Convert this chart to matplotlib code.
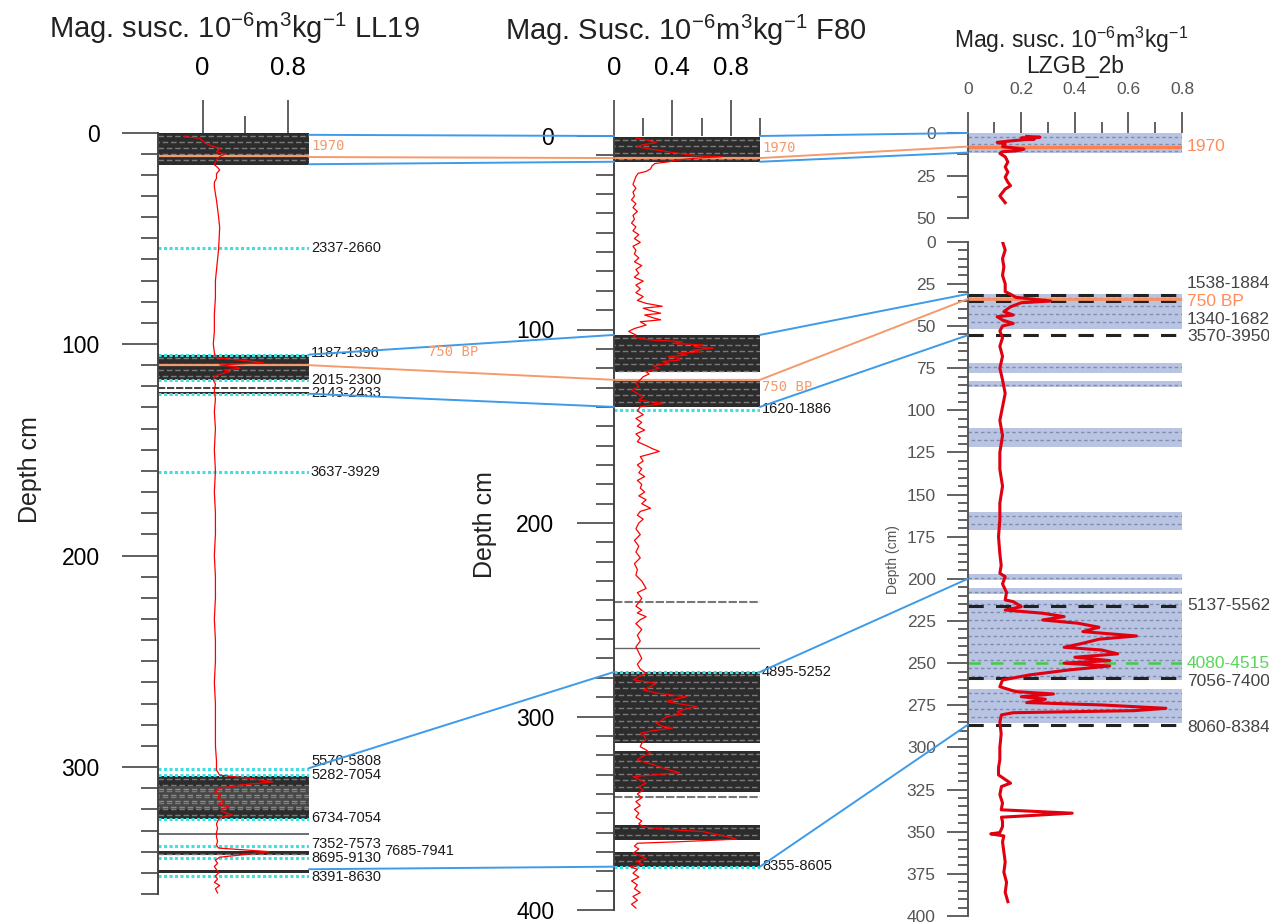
import numpy as np
import matplotlib.pyplot as plt
from matplotlib.patches import ConnectionPatch

W, H = 1269, 923

plt.rcParams['font.family'] = ['Liberation Sans', 'DejaVu Sans']
plt.rcParams['mathtext.default'] = 'regular'

# --- LL19 magnetic susceptibility log --------------------------------------
ll19_depth = [2.0, 2.7, 4.0, 5.1, 6.3, 7.5, 9.1, 10.2, 11.4, 12.7, 14.0, 15.3, 16.5, 17.7,
              19.5, 21.7, 23.5, 25.6, 29, 32, 36, 40, 45, 50, 55, 60, 65, 70, 78, 86, 94,
              100, 104, 106.5, 107.6, 108.8, 109.9, 110.7, 111.5, 112.3, 113.0, 113.9,
              114.7, 115.5, 117, 119, 122, 126, 132, 140, 150, 160, 170, 180, 190, 200,
              210, 220, 230, 240, 250, 260, 270, 280, 290, 297, 301.4, 303.8, 305.3, 307.0,
              308.5, 310.0, 311.7, 313, 314.5, 316, 317.5, 318.8, 320, 321, 322, 322.7,
              323.5, 324.2, 325.5, 327, 329, 331, 333, 335, 337, 338.3, 339.0, 340.0, 341.0,
              341.6, 342.6, 344, 345.5, 347, 348.5, 350, 351.5, 353, 354.5, 356, 357.5, 359.5]
ll19_sus = [-0.17, -0.03, 0.00, 0.03, 0.08, 0.165, 0.13, 0.21, 0.16, 0.13, 0.12, 0.11, 0.14,
            0.16, 0.13, 0.13, 0.11, 0.11, 0.12, 0.13, 0.14, 0.15, 0.16, 0.155, 0.15, 0.14,
            0.13, 0.12, 0.12, 0.11, 0.11, 0.10, 0.11, 0.12, 0.35, 0.57, 0.16, 0.30, 0.35,
            0.20, 0.26, 0.19, 0.14, 0.11, 0.10, 0.12, 0.11, 0.12, 0.11, 0.12, 0.11, 0.12,
            0.11, 0.12, 0.12, 0.11, 0.12, 0.12, 0.11, 0.12, 0.12, 0.11, 0.12, 0.12, 0.12,
            0.13, 0.13, 0.16, 0.44, 0.66, 0.35, 0.16, 0.11, 0.17, 0.14, 0.20, 0.15, 0.25,
            0.17, 0.18, 0.24, 0.28, 0.19, 0.16, 0.14, 0.13, 0.14, 0.13, 0.13, 0.14, 0.13,
            0.15, 0.35, 0.63, 0.45, 0.35, 0.16, 0.12, 0.14, 0.11, 0.13, 0.15, 0.12, 0.14,
            0.11, 0.16, 0.12, 0.14]

ll19_dark = [(0.3, 15.3), (105, 117), (304, 324.6), (122.8, 123.8), (339.6, 341.6), (348.7, 350.1)]
ll19_mid = [(309, 320)]
ll19_cyan = [54.5, 105, 117, 123.5, 160.3, 300.7, 303.8, 324.6, 337.5, 343, 351.7]
ll19_dashed = [121]
ll19_grey = [331.4]
ll19_orange = [11.3, 110]
ll19_labels = ['2337-2660', '1187-1396', '2015-2300', '2143-2433', '3637-3929', '5570-5808',
               '5282-7054', '6734-7054', '7352-7573', '8695-9130', '8391-8630']
ll19_label_depth = [54.6, 104.3, 117, 123, 160.5, 297, 303.6, 324.1, 336.4, 343, 351.9]

# --- F80 magnetic susceptibility log ----------------------------------------
f80_depth = [1.0, 2.0, 3.4, 4.5, 5.5, 6.5, 7.5, 8.5, 9.5, 10.2, 10.7, 11.5, 12.5, 13.3, 14.2,
             15.5, 17.0, 18.3, 19.3, 21, 23, 25, 27, 29, 31, 33, 35, 37, 39, 41, 43, 45, 47,
             49, 51, 53, 55, 57, 59, 61, 63, 65, 67, 69, 71, 73, 75, 77, 79, 81, 83, 85,
             86.5, 88, 89, 90.5, 91.6, 92.5, 94, 95, 96, 97.7, 99.5, 101, 102.8, 104, 105.4,
             106.3, 107.2, 108, 109, 109.7, 110.6, 111.5, 112.3, 113.2, 114, 115, 115.8,
             116.5, 117.5, 118.8, 120, 121, 121.8, 123, 124.4, 126, 127.8, 129.5, 131.3, 133,
             134.7, 136.5, 138.2, 139.9, 142, 144, 146, 148, 150, 152, 154, 156, 158, 160,
             161.5, 163, 164.5, 165.7, 168, 170, 172, 174, 176, 178, 180, 182, 184, 186, 188,
             190, 192.4, 194, 196, 198, 200, 203, 206, 209, 212, 215, 218, 221, 224, 227,
             230, 233.8, 236, 239, 241, 243, 245, 246.5, 248.4, 250, 252, 255, 258, 261, 264,
             267, 270, 273, 275.5, 277.7, 281, 282.9, 284.5, 286.3, 288, 289.8, 291, 292.3,
             293.5, 294.9, 296, 297.5, 298.7, 300, 301.8, 303.5, 305, 306, 307.5, 308.7,
             310.5, 312, 313.8, 315.6, 317.3, 319, 320.8, 322.5, 324.2, 325.9, 327.5, 329,
             330, 331.1, 332.8, 334.5, 336.2, 338, 340, 342, 344, 346, 348, 350, 352, 354,
             355.5, 357, 358.3, 359.5, 360.8, 362, 363.4, 364.7, 365.5, 367, 368.5, 370.7,
             372, 373.3, 375, 376.5, 377.6, 379, 381, 383, 385, 387, 389, 391, 393, 395, 397,
             399]
f80_sus = [0.15, 0.22, 0.29, 0.20, 0.16, 0.22, 0.32, 0.40, 0.50, 0.57, 0.74, 0.55, 0.42, 0.38,
           0.28, 0.26, 0.25, 0.22, 0.165, 0.15, 0.14, 0.13, 0.15, 0.13, 0.14, 0.12, 0.15,
           0.13, 0.16, 0.13, 0.14, 0.12, 0.15, 0.13, 0.17, 0.14, 0.18, 0.13, 0.15, 0.14,
           0.17, 0.14, 0.19, 0.15, 0.17, 0.14, 0.20, 0.15, 0.18, 0.15, 0.20, 0.16, 0.22,
           0.33, 0.20, 0.26, 0.32, 0.21, 0.27, 0.32, 0.18, 0.22, 0.14, 0.10, 0.15, 0.13,
           0.25, 0.47, 0.40, 0.61, 0.55, 0.68, 0.54, 0.60, 0.43, 0.50, 0.37, 0.45, 0.45,
           0.33, 0.38, 0.27, 0.31, 0.26, 0.22, 0.24, 0.20, 0.18, 0.15, 0.17, 0.12, 0.16,
           0.20, 0.17, 0.34, 0.18, 0.16, 0.20, 0.15, 0.19, 0.16, 0.21, 0.15, 0.18, 0.16,
           0.22, 0.26, 0.31, 0.24, 0.18, 0.20, 0.16, 0.19, 0.17, 0.21, 0.16, 0.19, 0.18,
           0.21, 0.17, 0.22, 0.19, 0.25, 0.18, 0.16, 0.20, 0.17, 0.15, 0.18, 0.14, 0.17,
           0.15, 0.18, 0.14, 0.16, 0.15, 0.19, 0.22, 0.16, 0.19, 0.17, 0.15, 0.19, 0.16,
           0.22, 0.18, 0.15, 0.19, 0.16, 0.18, 0.15, 0.17, 0.19, 0.16, 0.18, 0.22, 0.13,
           0.29, 0.25, 0.20, 0.30, 0.50, 0.42, 0.36, 0.45, 0.57, 0.50, 0.43, 0.47, 0.36,
           0.33, 0.29, 0.33, 0.40, 0.25, 0.18, 0.21, 0.22, 0.19, 0.18, 0.22, 0.25, 0.19,
           0.16, 0.24, 0.31, 0.37, 0.45, 0.30, 0.13, 0.18, 0.22, 0.17, 0.20, 0.16, 0.19,
           0.15, 0.18, 0.14, 0.17, 0.15, 0.19, 0.17, 0.20, 0.35, 0.61, 0.69, 0.77, 0.84,
           0.45, 0.16, 0.14, 0.17, 0.13, 0.18, 0.22, 0.15, 0.20, 0.11, 0.16, 0.13, 0.17,
           0.12, 0.16, 0.14, 0.18, 0.13, 0.16, 0.12, 0.15]

f80_dark = [(0.3, 13.3), (102.8, 122), (125.6, 140), (277, 313.8), (317.8, 338.8),
            (356, 363.8), (369.8, 377.6)]
f80_cyan = [141.5, 277, 377.6]
f80_dashed = [241, 341.4]
f80_grey = [264.4]
f80_orange = [11.4, 126]
f80_labels = ['1620-1886', '4895-5252', '8355-8605']
f80_label_depth = [141, 276.9, 377.2]

# --- LZGB_2b: upper short core (0-50 cm) and main core (0-400 cm) ----------
lz_top_depth = [2.0, 2.5, 3.0, 3.5, 4.5, 5.5, 6.5, 8.0, 9.5, 10.5, 11.0, 12.0, 14, 17, 20,
                23, 26, 29, 31, 33, 35, 37, 39, 41]
lz_top_sus = [0.22, 0.27, 0.20, 0.25, 0.17, 0.11, 0.14, 0.13, 0.21, 0.18, 0.13, 0.12, 0.14,
              0.15, 0.14, 0.15, 0.14, 0.15, 0.16, 0.14, 0.13, 0.12, 0.13, 0.14]

lz_depth = [0, 5, 10, 15, 20, 25, 29.6, 31, 33, 35.2, 36.2, 38.6, 41.5, 43.5, 44.5, 46.5,
            48.5, 50, 53, 57, 62, 68, 75, 82, 90, 98, 106, 115, 125, 135, 145, 155, 165,
            175, 185, 192, 196.7, 198.7, 203, 208, 212.5, 213.5, 216.5, 218.5, 220.4, 222.4,
            224.4, 226.3, 228.7, 231.3, 233.9, 235.8, 238.2, 240.6, 242.2, 244.5, 246.5,
            248.5, 250, 251.7, 254, 257, 260, 264, 266.9, 268.3, 269.9, 271.4, 273.4, 274.8,
            276.8, 278.2, 279.4, 280.7, 285, 292, 300, 307.4, 312, 316.3, 321.2, 323.2, 328,
            333, 337, 339, 340, 341.4, 344, 347, 350.5, 351.3, 352.5, 356, 362, 368, 374,
            380, 386, 391.5]
lz_sus = [0.13, 0.14, 0.13, 0.135, 0.13, 0.14, 0.14, 0.158, 0.18, 0.31, 0.20, 0.16, 0.135,
          0.17, 0.11, 0.13, 0.17, 0.13, 0.12, 0.13, 0.12, 0.13, 0.12, 0.13, 0.14, 0.13, 0.12,
          0.13, 0.12, 0.12, 0.13, 0.12, 0.12, 0.115, 0.12, 0.125, 0.12, 0.14, 0.13, 0.145,
          0.14, 0.17, 0.20, 0.14, 0.28, 0.36, 0.28, 0.41, 0.49, 0.43, 0.63, 0.49, 0.43, 0.36,
          0.50, 0.56, 0.40, 0.53, 0.36, 0.53, 0.38, 0.23, 0.13, 0.12, 0.18, 0.32, 0.20, 0.29,
          0.22, 0.50, 0.74, 0.62, 0.17, 0.126, 0.12, 0.125, 0.12, 0.12, 0.115, 0.115, 0.16,
          0.126, 0.12, 0.13, 0.125, 0.39, 0.28, 0.126, 0.13, 0.13, 0.12, 0.086, 0.135, 0.13,
          0.135, 0.14, 0.135, 0.145, 0.14, 0.15]

lz_top_boxes = [(0, 11.6)]
lz_boxes = [(31, 51.5), (71.8, 77.7), (82.4, 86), (110.6, 122), (160.5, 171), (197.3, 200.6),
            (205.6, 209), (212.5, 260), (265.5, 285.3)]
lz_black = [31.6, 35.3, 55.5, 216, 258.6, 286.6]
lz_green = [250]
lz_orange = [34]
lz_labels = ['1538-1884', '750 BP', '1340-1682', '3570-3950', '5137-5562', '4080-4515',
             '7056-7400', '8060-8384']
lz_label_depth = [24.6, 35.2, 45.9, 56.5, 216, 250, 260.7, 288]
lz_label_color = ['#444444', '#ff8c5a', '#444444', '#444444', '#444444', '#5ad65a',
                  '#444444', '#444444']

# --- tie lines between the cores -------------------------------------------
tie_ll19 = [1.1, 11.6, 15.0, 105, 110, 123.5, 300.5, 348.3]
tie_f80 = [0, 11.4, 13.3, 102.8, 126, 140, 277, 377.6]
tie_lzgb = [0, 8, 11.5, 31, 34, 55.5, 200, 286.6]
tie_lzgb_core = ['top', 'top', 'top', 'main', 'main', 'main', 'main', 'main']
tie_colour = ['#3d9be9', '#f59a6c', '#3d9be9', '#3d9be9', '#f59a6c', '#3d9be9', '#3d9be9',
              '#3d9be9']

ORANGE = '#f59a6c'
CYAN = '#3fe0e0'

fig = plt.figure(figsize=(W / 100, H / 100), dpi=100)


def px_axes(left, top, right, bottom):
    return fig.add_axes([left / W, 1 - bottom / H, (right - left) / W, (bottom - top) / H])


def fig_text(x, y, s, **kw):
    fig.text(x / W, 1 - y / H, s, **kw)


def lith(ax, top, bot, face, dash, row_px, px_cm, on, off, lw=1.0):
    # filled layer with staggered dashed rows as texture
    ax.axhspan(top, bot, color=face, lw=0, zorder=1)
    step = row_px / px_cm
    for i, d in enumerate(np.arange(top + step / 2, bot, step)):
        ax.axhline(d, color=dash, lw=lw, ls=((on + off) / 2 * (i % 2), (on, off)), zorder=1.5)


def frame(ax, xlim, ylim, spine_c='#444444'):
    ax.set_xlim(*xlim)
    ax.set_ylim(*ylim)
    ax.patch.set_alpha(0)
    for s in ['right', 'bottom', 'top']:
        ax.spines[s].set_visible(False)
    ax.spines['left'].set_color(spine_c)
    ax.spines['left'].set_linewidth(1.4)
    ax.xaxis.tick_top()


# ---------------- LL19 ----------------
PX_LL = 2.115
ax1 = px_axes(158, 132.5, 309, 894)
frame(ax1, (-0.42, 1.0), (360, 0))
for top, bot in ll19_dark:
    lith(ax1, top, bot, '#2c2c2c', '#7a7a7a', 6, PX_LL, 4, 2)
for top, bot in ll19_mid:
    lith(ax1, top, bot, '#474747', '#8a8a8a', 6, PX_LL, 4, 2)
for d in ll19_cyan:
    ax1.axhline(d, color=CYAN, lw=2.2, ls=(0, (1, 0.8)), zorder=2)
for d in ll19_dashed:
    ax1.axhline(d, color='#333333', lw=1.3, ls=(0, (4, 1)), zorder=2)
for d in ll19_grey:
    ax1.axhline(d, color='#555555', lw=1.2, zorder=2)
for d in ll19_orange:
    ax1.axhline(d, color=ORANGE, lw=1.6, zorder=2.5)
ax1.plot(ll19_sus, ll19_depth, color='red', lw=0.9, zorder=3)
ax1.set_xticks([0, 0.8], ['0', '0.8'])
ax1.set_xticks([0.4], minor=True)
ax1.set_yticks([0, 100, 200, 300])
ax1.set_yticks(np.arange(10, 361, 10), minor=True)
ax1.tick_params(axis='x', which='major', length=24, width=1.2, pad=14, labelsize=18.5,
                color='#444444')
ax1.tick_params(axis='x', which='minor', length=12, width=1.2, color='#444444')
ax1.tick_params(axis='y', which='major', length=26, width=1.2, pad=16, labelsize=16.5,
                color='#444444')
ax1.tick_params(axis='y', which='minor', length=12, width=1.2, color='#444444')
yt = ax1.get_yaxis_transform()
ax1.text(1.015, 6.4, '1970', transform=yt, color=ORANGE, fontsize=10,
         family='DejaVu Sans Mono', va='center', clip_on=False)
for lab, d in zip(ll19_labels, ll19_label_depth):
    ax1.text(1.013, d, lab, transform=yt, color='#1a1a1a', fontsize=10.5, va='center',
             clip_on=False)
ax1.text(1.497, 339.7, '7685-7941', transform=yt, color='#1a1a1a', fontsize=10.5,
         va='center', clip_on=False)

# ---------------- F80 ----------------
PX_F = 1.935
ax2 = px_axes(614, 136, 760, 910)
frame(ax2, (0, 1.0), (400, 0))
for top, bot in f80_dark:
    lith(ax2, top, bot, '#2c2c2c', '#7a7a7a', 6.5, PX_F, 4, 2)
for d in f80_cyan:
    ax2.axhline(d, color=CYAN, lw=2.2, ls=(0, (1, 0.8)), zorder=2)
for d in f80_dashed:
    ax2.axhline(d, color='#777777', lw=1.5, ls=(0, (4, 1)), zorder=2)
for d in f80_grey:
    ax2.axhline(d, color='#666666', lw=1.0, zorder=2)
for d in f80_orange:
    ax2.axhline(d, color=ORANGE, lw=1.6, zorder=2.5)
ax2.plot(f80_sus, f80_depth, color='red', lw=0.9, zorder=3)
ax2.set_xticks([0, 0.4, 0.8], ['0', '0.4', '0.8'])
ax2.set_xticks([0.2, 0.6, 1.0], minor=True)
ax2.set_yticks(np.arange(0, 401, 100))
ax2.set_yticks(np.arange(10, 400, 10), minor=True)
ax2.tick_params(axis='x', which='major', length=26, width=1.2, pad=14, labelsize=18.5,
                color='#444444')
ax2.tick_params(axis='x', which='minor', length=13, width=1.2, color='#444444')
ax2.tick_params(axis='y', which='major', length=27, width=1.2, pad=16, labelsize=16.5,
                color='#444444')
ax2.tick_params(axis='y', which='minor', length=13, width=1.2, color='#444444')
yt = ax2.get_yaxis_transform()
ax2.text(1.015, 6.2, '1970', transform=yt, color=ORANGE, fontsize=10,
         family='DejaVu Sans Mono', va='center', clip_on=False)
ax2.text(1.015, 129.7, '750 BP', transform=yt, color=ORANGE, fontsize=10,
         family='DejaVu Sans Mono', va='center', clip_on=False)
for lab, d in zip(f80_labels, f80_label_depth):
    ax2.text(1.013, d, lab, transform=yt, color='#1a1a1a', fontsize=10.5, va='center',
             clip_on=False)

# ---------------- LZGB_2b ----------------
PX_LZ_TOP = 1.7
PX_LZ = 1.686
GREY_TXT = '#555555'
ax3 = px_axes(967.7, 133, 1182, 218)
frame(ax3, (0, 0.8), (50, 0), spine_c='#555555')
for top, bot in lz_top_boxes:
    lith(ax3, top, bot, '#b8c4e2', '#7f8db0', 7, PX_LZ_TOP, 2.5, 2)
ax3.axhline(8, color='#ff7f50', lw=2.4, zorder=2.5)
ax3.plot(lz_top_sus, lz_top_depth, color='#e00010', lw=2.2, zorder=3)
ax3.set_xticks(np.arange(0, 0.81, 0.2), ['0', '0.2', '0.4', '0.6', '0.8'])
ax3.set_xticks([0.1, 0.3, 0.5, 0.7], minor=True)
ax3.set_yticks([0, 25, 50])
ax3.set_yticks([12.5, 37.5], minor=True)
ax3.tick_params(axis='x', which='major', length=15, width=1.3, pad=11, labelsize=12.5,
                labelcolor=GREY_TXT, color='#555555')
ax3.tick_params(axis='x', which='minor', length=8, width=1.3, color='#555555')
ax3.tick_params(axis='y', which='major', length=15, width=1.3, pad=8, labelsize=12.5,
                labelcolor=GREY_TXT, color='#555555')
ax3.tick_params(axis='y', which='minor', length=8, width=1.3, color='#555555')
ax3.text(1.023, 8.2, '1970', transform=ax3.get_yaxis_transform(), color='#ff8c5a',
         fontsize=12.5, va='center', clip_on=False)

ax4 = px_axes(967.7, 241.7, 1182, 916)
frame(ax4, (0, 0.8), (400, 0), spine_c='#555555')
for top, bot in lz_boxes:
    lith(ax4, top, bot, '#b8c4e2', '#7f8db0', 8, PX_LZ, 2.5, 2)
for d in lz_black:
    ax4.axhline(d, color='#222222', lw=2.2, ls=(0, (5, 4)), zorder=2)
for d in lz_green:
    ax4.axhline(d, color='#44cc44', lw=1.8, ls=(0, (5, 4)), zorder=2)
for d in lz_orange:
    ax4.axhline(d, color='#ff8c5a', lw=2.0, zorder=2.5)
ax4.plot(lz_sus, lz_depth, color='#e00010', lw=2.2, zorder=3)
ax4.set_xticks([])
ax4.set_yticks(np.arange(0, 401, 25))
ax4.set_yticks(np.arange(5, 400, 5), minor=True)
ax4.tick_params(axis='y', which='major', length=15, width=1.3, pad=8, labelsize=12.5,
                labelcolor=GREY_TXT, color='#555555')
ax4.tick_params(axis='y', which='minor', length=7, width=1.3, color='#555555')
yt = ax4.get_yaxis_transform()
for lab, d, c in zip(lz_labels, lz_label_depth, lz_label_color):
    ax4.text(1.023, d, lab, transform=yt, color=c, fontsize=12.5, va='center', clip_on=False)

# ---------------- tie lines ----------------
for a, b, c, core, col in zip(tie_ll19, tie_f80, tie_lzgb, tie_lzgb_core, tie_colour):
    fig.add_artist(ConnectionPatch((1, a), (0, b), ax1.get_yaxis_transform(),
                                   ax2.get_yaxis_transform(), color=col, lw=1.4))
    target = ax3 if core == 'top' else ax4
    fig.add_artist(ConnectionPatch((1, b), (0, c), ax2.get_yaxis_transform(),
                                   target.get_yaxis_transform(), color=col, lw=1.4))
fig_text(428, 352, '750 BP', color=ORANGE, fontsize=10, family='DejaVu Sans Mono',
         va='center')

# ---------------- titles and depth labels ----------------
fig_text(234, 28, 'Mag. susc. 10$^{-6}$m$^{3}$kg$^{-1}$ LL19', fontsize=21, ha='center',
         va='center', color='#222222')
fig_text(686, 30, 'Mag. Susc. 10$^{-6}$m$^{3}$kg$^{-1}$ F80', fontsize=21, ha='center',
         va='center', color='#222222')
fig_text(1071, 40, 'Mag. susc. 10$^{-6}$m$^{3}$kg$^{-1}$', fontsize=16.5, ha='center',
         va='center', color='#222222')
fig_text(1075, 67, 'LZGB_2b', fontsize=16.5, ha='center', va='center', color='#222222')
fig_text(30, 470, 'Depth cm', fontsize=18, rotation=90, ha='center', va='center',
         color='#222222')
fig_text(485, 525, 'Depth cm', fontsize=18, rotation=90, ha='center', va='center',
         color='#222222')
fig_text(893, 560, 'Depth (cm)', fontsize=10, rotation=90, ha='center', va='center',
         color=GREY_TXT)

fig.savefig('out.png', dpi=100)
